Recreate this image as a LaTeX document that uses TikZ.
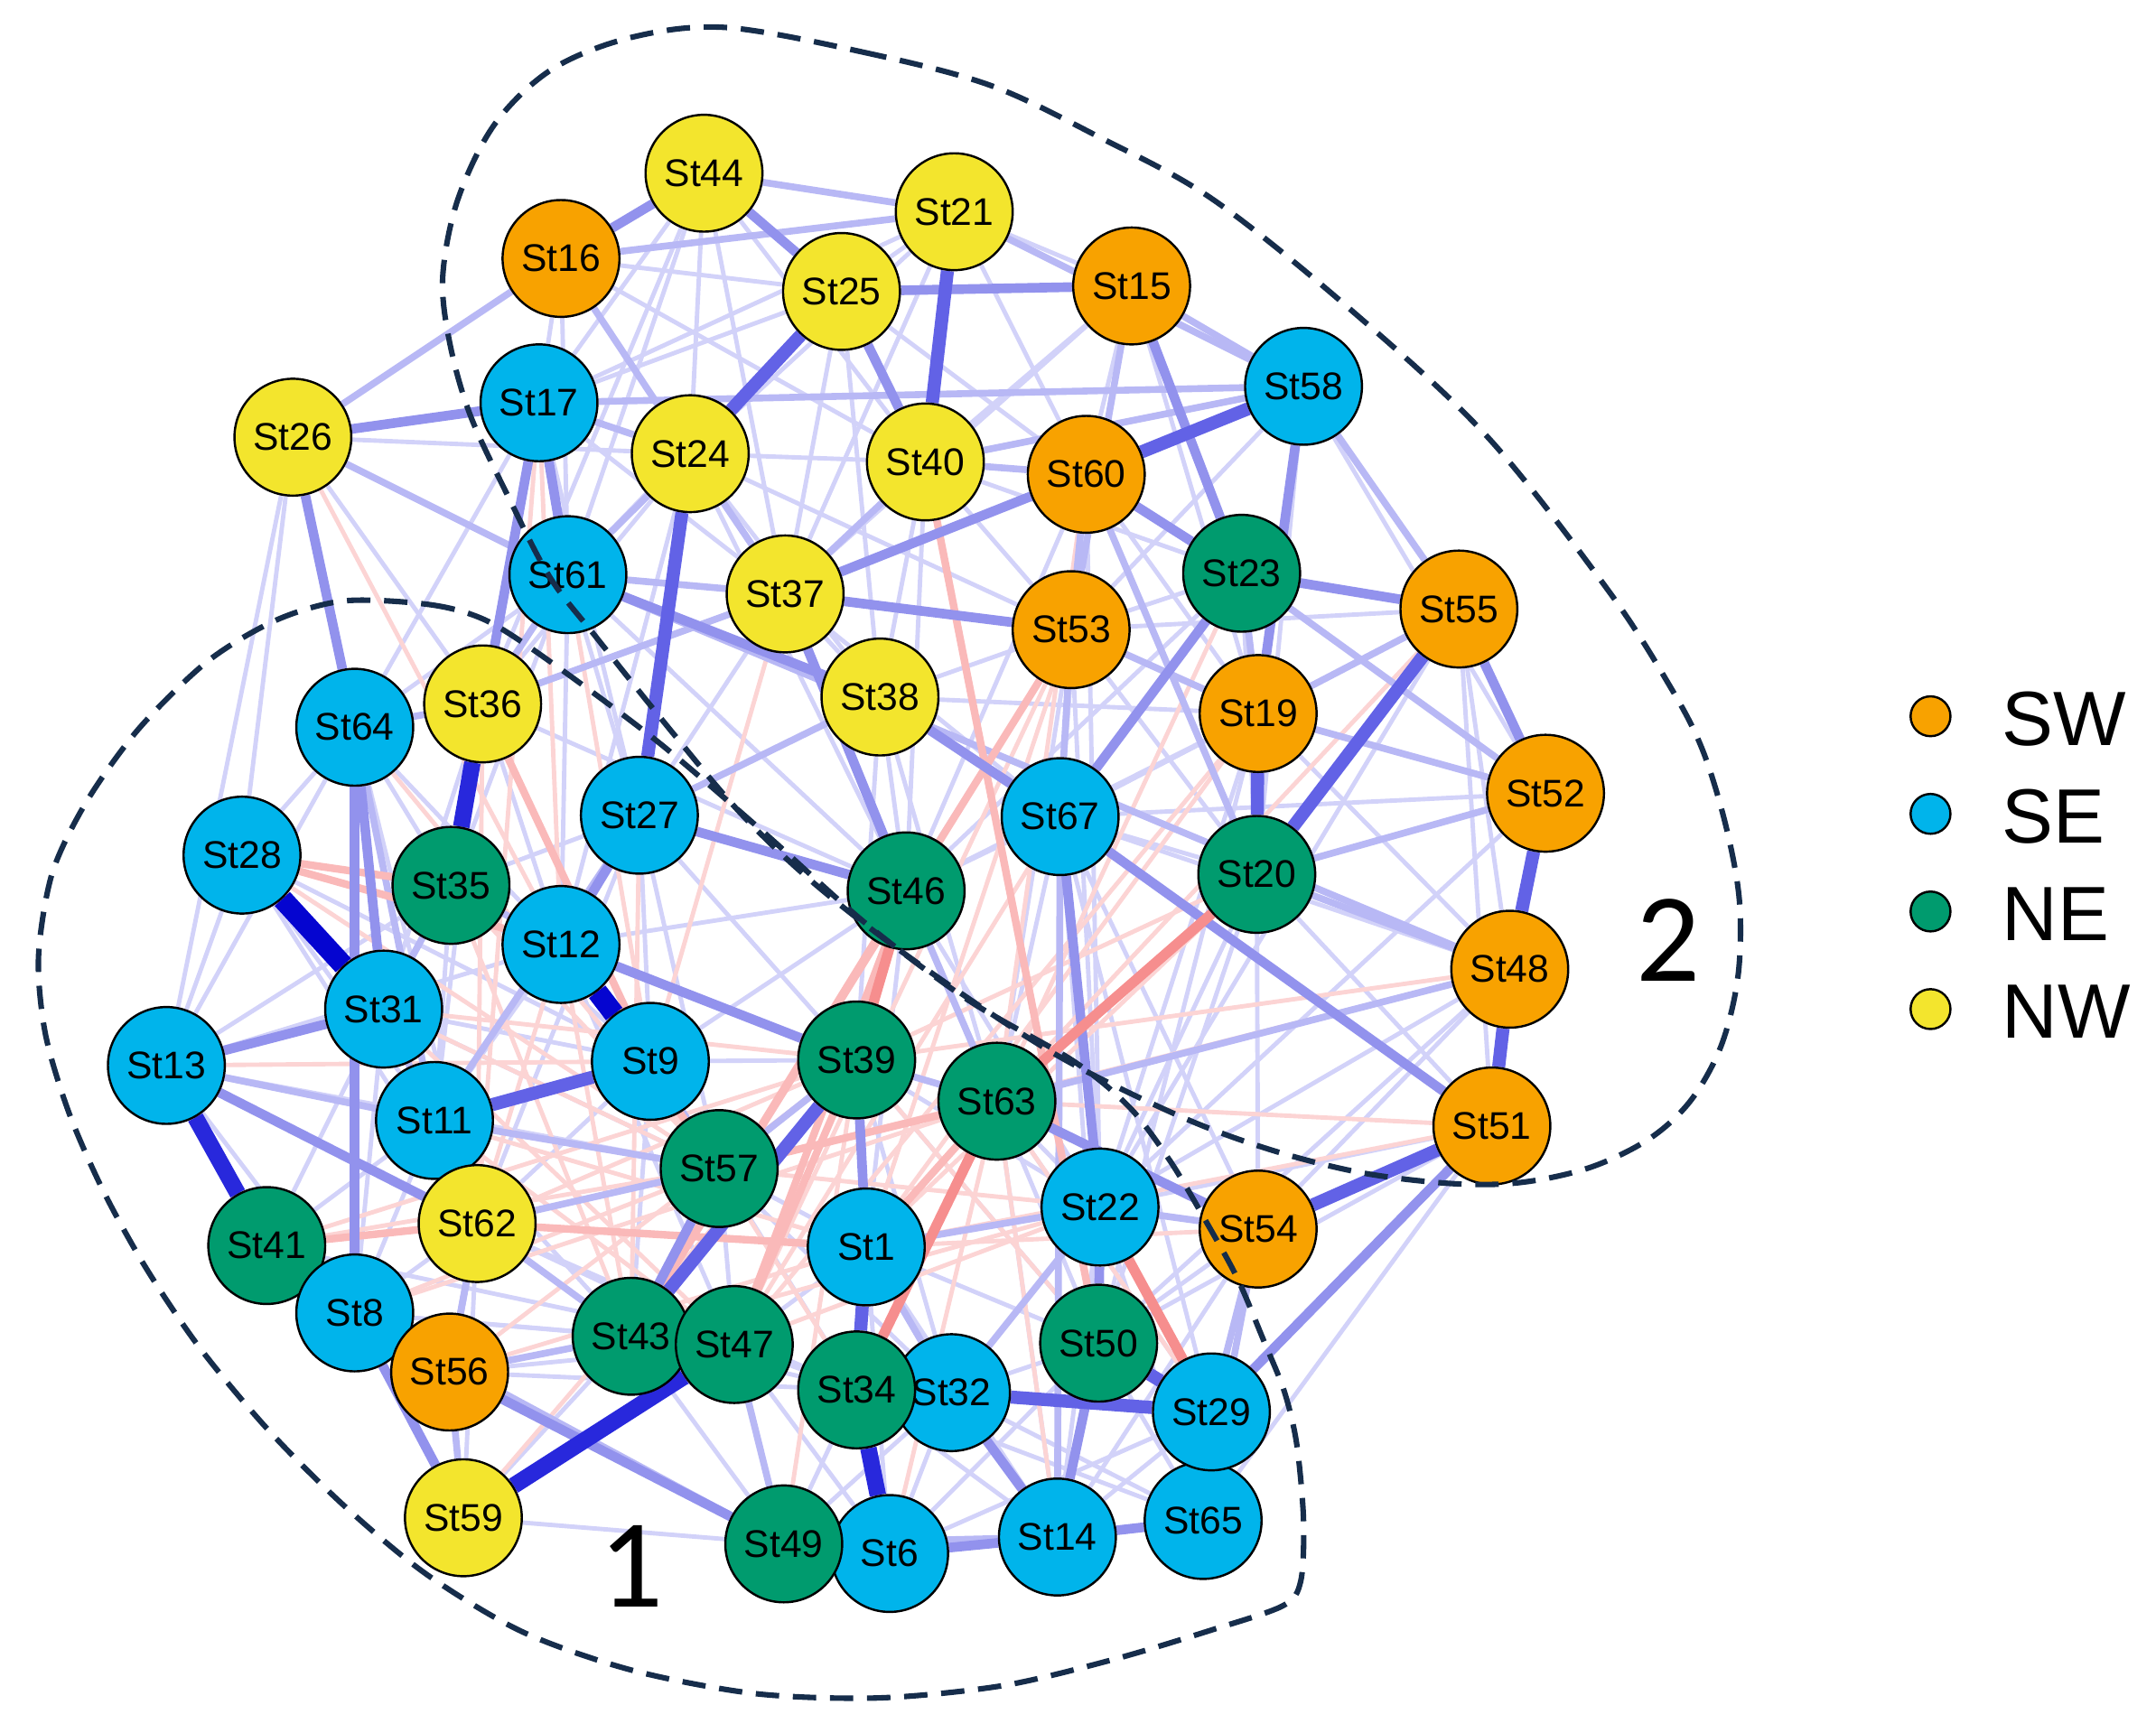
\documentclass[tikz,border=0pt]{standalone}
\usepackage{fontspec}
\setmainfont{Liberation Sans}
\newfontfamily\calib{Carlito}
\pgfdeclarelayer{edges}
\pgfsetlayers{edges,main}
\definecolor{cSW}{RGB}{248,162,0}
\definecolor{cSE}{RGB}{0,180,235}
\definecolor{cNE}{RGB}{0,155,110}
\definecolor{cNW}{RGB}{243,229,45}
\definecolor{dashc}{RGB}{22,45,75}
\definecolor{b1}{RGB}{210,210,249}
\definecolor{b2}{RGB}{184,184,245}
\definecolor{b3}{RGB}{146,146,237}
\definecolor{b4}{RGB}{98,98,230}
\definecolor{b5}{RGB}{40,40,220}
\definecolor{b6}{RGB}{5,5,208}
\definecolor{r1}{RGB}{252,212,212}
\definecolor{r2}{RGB}{250,185,185}
\definecolor{r3}{RGB}{246,142,142}
\tikzset{
  st/.style={circle, draw=black, line width=1.6pt, minimum size=85pt, inner sep=0pt, font=\fontsize{28}{32}\selectfont},
  sw/.style={st, fill=cSW}, se/.style={st, fill=cSE}, ne/.style={st, fill=cNE}, nw/.style={st, fill=cNW},
  lg/.style={circle, draw=black, line width=1.6pt, minimum size=29pt, inner sep=0pt},
  lgt/.style={anchor=west, inner sep=0pt, font=\fontsize{56}{60}\selectfont},
  num/.style={inner sep=0pt, font=\calib\fontsize{92}{96}\selectfont},
  ea/.style={draw=b1, line width=3.2pt},
  eb/.style={draw=b2, line width=5pt},
  ec/.style={draw=b3, line width=7pt},
  ed/.style={draw=b4, line width=9.5pt},
  ee/.style={draw=b5, line width=12pt},
  ef/.style={draw=b6, line width=15pt},
  ra/.style={draw=r1, line width=3.2pt},
  rb/.style={draw=r2, line width=5.5pt},
  rc/.style={draw=r3, line width=7.5pt},
  region/.style={draw=dashc, line width=4pt, dash pattern=on 17pt off 10pt}
}
\begin{document}
\begin{tikzpicture}[x=1pt,y=-1pt]
\useasboundingbox (0,0) rectangle (1568,1260.5);
% nodes
\node[nw] (St44) at (512,126) {St44};
\node[nw] (St21) at (694,154) {St21};
\node[sw] (St16) at (408,188) {St16};
\node[nw] (St25) at (612,212) {St25};
\node[sw] (St15) at (823,208) {St15};
\node[se] (St58) at (948,281) {St58};
\node[nw] (St26) at (213,318) {St26};
\node[se] (St17) at (392,293) {St17};
\node[nw] (St24) at (502,330) {St24};
\node[nw] (St40) at (673,336) {St40};
\node[sw] (St60) at (790,345) {St60};
\node[ne] (St23) at (903,417) {St23};
\node[sw] (St55) at (1061,443) {St55};
\node[se] (St61) at (413,418) {St61};
\node[nw] (St37) at (571,432) {St37};
\node[sw] (St53) at (779,458) {St53};
\node[nw] (St38) at (640,507) {St38};
\node[sw] (St19) at (915,519) {St19};
\node[se] (St64) at (258,529) {St64};
\node[nw] (St36) at (351,512) {St36};
\node[sw] (St52) at (1124,577) {St52};
\node[se] (St27) at (465,593) {St27};
\node[se] (St67) at (771,594) {St67};
\node[se] (St28) at (176,622) {St28};
\node[ne] (St35) at (328,644) {St35};
\node[ne] (St46) at (659,648) {St46};
\node[ne] (St20) at (914,636) {St20};
\node[se] (St12) at (408,687) {St12};
\node[sw] (St48) at (1098,705) {St48};
\node[se] (St31) at (279,734) {St31};
\node[se] (St13) at (121,775) {St13};
\node[se] (St9) at (473,772) {St9};
\node[ne] (St39) at (623,771) {St39};
\node[ne] (St63) at (725,801) {St63};
\node[se] (St11) at (316,815) {St11};
\node[ne] (St57) at (523,850) {St57};
\node[sw] (St51) at (1085,819) {St51};
\node[se] (St22) at (800,878) {St22};
\node[sw] (St54) at (915,894) {St54};
\node[ne] (St41) at (194,906) {St41};
\node[nw] (St62) at (347,890) {St62};
\node[se] (St1) at (630,907) {St1};
\node[se] (St8) at (258,955) {St8};
\node[ne] (St43) at (459,972) {St43};
\node[ne] (St47) at (534,978) {St47};
\node[ne] (St50) at (799,977) {St50};
\node[sw] (St56) at (327,998) {St56};
\node[se] (St32) at (692,1013) {St32};
\node[ne] (St34) at (623,1011) {St34};
\node[se] (St65) at (875,1106) {St65};
\node[se] (St29) at (881,1027) {St29};
\node[nw] (St59) at (337,1104) {St59};
\node[se] (St6) at (647,1130) {St6};
\node[ne] (St49) at (570,1123) {St49};
\node[se] (St14) at (769,1118) {St14};
% edges
\begin{pgfonlayer}{edges}
\foreach \a/\b in {St26/St28, St26/St36, St26/St13, St28/St13, St28/St64, St44/St24, St44/St40, St44/St17, St44/St37, St16/St17, St16/St25, St16/St40, St16/St61, St21/St25, St21/St60, St21/St24, St21/St37, St25/St17, St25/St60, St25/St37, St25/St61, St40/St53, St40/St23, St40/St38, St40/St24, St15/St60, St15/St19, St15/St40, St15/St37, St58/St53, St58/St52, St58/St40, St58/St20, St55/St48, St55/St51, St55/St53, St55/St67, St52/St51, St52/St67, St52/St19, St48/St22, St48/St54, St48/St19, St48/St67, St51/St22, St51/St20, St51/St65, St20/St67, St20/St22, St20/St54, St20/St50, St19/St67, St19/St46, St53/St46, St53/St20, St53/St22, St53/St38, St38/St46, St38/St39, St38/St27, St37/St27, St61/St27, St61/St12, St61/St64, St61/St24, St36/St12, St36/St31, St64/St35, St64/St13, St31/St9, St31/St62, St31/St8, St11/St12, St11/St43, St11/St8, St11/St41, St9/St39, St9/St46, St9/St62, St9/St43, St27/St57, St27/St39, St27/St9, St46/St67, St46/St22, St46/St1, St46/St12, St39/St22, St63/St22, St63/St50, St63/St67, St57/St47, St57/St1, St57/St34, St62/St47, St62/St8, St43/St49, St43/St34, St47/St34, St47/St6, St47/St1, St1/St50, St1/St14, St1/St6, St34/St14, St34/St49, St32/St50, St32/St65, St32/St6, St50/St65, St22/St65, St22/St14, St29/St14, St49/St32, St6/St29, St41/St31, St41/St62, St8/St43, St56/St43, St56/St47, St56/St34, St59/St43, St59/St49, St59/St62, St13/St8, St13/St35, St13/St12, St28/St11, St28/St62, St35/St11, St35/St9, St35/St27, St36/St11, St12/St57, St12/St47, St24/St12, St24/St36, St24/St46, St17/St37, St17/St27, St17/St64, St61/St35, St60/St46, St60/St67, St60/St19, St23/St53, St23/St46, St23/St52, St23/St20, St19/St22, St67/St50, St67/St29, St54/St50, St54/St65, St54/St14, St65/St34, St14/St49, St6/St50, St24/St38, St37/St67, St38/St63, St27/St62, St64/St62, St31/St57, St48/St50, St51/St50, St52/St22, St55/St22, St26/St24, St17/St21, St44/St61, St21/St15, St16/St37, St37/St38, St38/St19, St24/St53, St61/St46, St36/St46, St64/St12, St28/St9, St13/St57, St41/St47, St8/St47, St62/St34, St57/St32, St39/St32, St39/St50, St63/St29, St63/St14, St67/St54, St19/St50, St60/St22, St53/St63, St40/St46, St25/St38, St44/St36}
  \draw[ea] (\a) -- (\b);
\foreach \a/\b in {St17/St62, St26/St12, St36/St62, St35/St57, St12/St62, St31/St57, St11/St47, St9/St34, St12/St43, St27/St43, St61/St9, St37/St9, St57/St22, St62/St39, St41/St57, St31/St39, St8/St57, St56/St1, St59/St39, St43/St22, St49/St39, St6/St63, St14/St63, St29/St63, St48/St57, St51/St1, St19/St1, St20/St1, St53/St47, St67/St47, St53/St1, St19/St47, St20/St39, St17/St12, St60/St63, St23/St63, St55/St63, St48/St39, St51/St63, St22/St47, St54/St1, St50/St39, St35/St43, St31/St47, St11/St1, St62/St63, St41/St39, St8/St63, St56/St39, St64/St57, St28/St57, St13/St9}
  \draw[ra] (\a) -- (\b);
\foreach \a/\b in {St16/St21, St44/St21, St16/St26, St26/St61, St16/St24, St21/St58, St15/St58, St15/St53, St58/St55, St23/St19, St19/St52, St52/St20, St48/St63, St54/St29, St54/St22, St29/St65, St59/St56, St24/St37, St61/St37, St40/St37, St17/St24, St17/St58, St40/St60, St36/St37, St35/St31, St35/St12, St31/St11, St47/St49, St6/St65, St1/St32, St67/St14, St53/St67, St60/St53, St60/St20, St53/St19, St57/St62, St57/St9, St43/St62, St43/St56, St11/St57, St8/St41, St56/St8, St62/St56, St36/St61, St27/St38, St27/St11, St46/St63, St39/St63, St39/St57, St1/St22, St22/St32, St49/St14, St65/St54, St48/St20, St52/St23, St55/St19, St13/St11, St41/St56, St8/St49, St26/St64, St36/St64, St17/St36, St48/St61, St56/St62, St40/St58, St24/St61, St64/St11}
  \draw[eb] (\a) -- (\b);
\foreach \a/\b in {St40/St50, St46/St47, St62/St41, St28/St12, St36/St9, St46/St43, St39/St47, St63/St57, St63/St1, St53/St43, St28/St35, St12/St57, St62/St1}
  \draw[rb] (\a) -- (\b);
\foreach \a/\b in {St16/St44, St26/St17, St26/St64, St44/St25, St25/St40, St25/St15, St15/St23, St58/St19, St60/St23, St23/St55, St55/St52, St51/St29, St51/St67, St22/St50, St65/St14, St14/St6, St56/St49, St59/St8, St13/St31, St13/St62, St64/St8, St64/St31, St17/St35, St37/St53, St61/St38, St37/St46, St38/St67, St60/St37, St39/St1, St39/St12, St12/St27, St27/St46, St23/St67, St67/St22, St32/St14, St50/St14, St63/St54, St17/St61, St57/St43}
  \draw[ec] (\a) -- (\b);
\foreach \a/\b in {St22/St29, St20/St63, St46/St39, St63/St34}
  \draw[rc] (\a) -- (\b);
\foreach \a/\b in {St25/St24, St21/St40, St58/St60, St51/St54, St24/St27, St9/St11, St19/St20, St52/St48, St48/St51, St55/St20, St32/St29, St34/St1, St50/St29, St39/St43}
  \draw[ed] (\a) -- (\b);
\foreach \a/\b in {St13/St41, St36/St35, St59/St47, St34/St6}
  \draw[ee] (\a) -- (\b);
\foreach \a/\b in {St28/St31, St12/St9}
  \draw[ef] (\a) -- (\b);
\end{pgfonlayer}
% cluster outlines
\draw[region] plot[smooth cycle, tension=0.55] coordinates {(528,20) (628,38) (720,62) (800,100) (882,145) (982,225) (1082,318) (1170,430) (1215,500) (1238,545) (1255,600) (1265,655) (1264,710) (1252,760) (1230,800) (1200,828) (1157,849) (1107,860) (1057,861) (990,853) (923,836) (856,811) (766,766) (668,701) (595,645) (540,593) (490,534) (434,464) (400,420) (370,362) (342,302) (327,249) (322,201) (333,145) (360,90) (402,50) (460,27)};
\draw[region] plot[smooth cycle, tension=0.5] coordinates {(251,437) (314,440) (355,452) (404,484) (479,540) (555,605) (630,672) (705,728) (781,772) (822,806) (852,846) (878,890) (900,930) (919,975) (934,1012) (943,1050) (948,1105) (946,1150) (933,1168) (880,1186) (810,1207) (730,1226) (640,1235) (550,1232) (460,1215) (380,1187) (310,1145) (250,1095) (195,1040) (145,980) (106,922) (75,866) (50,809) (33,752) (28,696) (38,635) (63,583) (101,530) (151,481) (201,451)};
\node[num] (n1) at (459,1139) {1};
\node[num] (n2) at (1213,684) {2};
% legend
\node[lg, fill=cSW] (lSW) at (1404,521) {};
\node[lg, fill=cSE] (lSE) at (1404,592) {};
\node[lg, fill=cNE] (lNE) at (1404,663) {};
\node[lg, fill=cNW] (lNW) at (1404,734) {};
\node[lgt] (tSW) at (1456,523) {SW};
\node[lgt] (tSE) at (1456,594) {SE};
\node[lgt] (tNE) at (1456,665) {NE};
\node[lgt] (tNW) at (1456,736) {NW};
\end{tikzpicture}
\end{document}
